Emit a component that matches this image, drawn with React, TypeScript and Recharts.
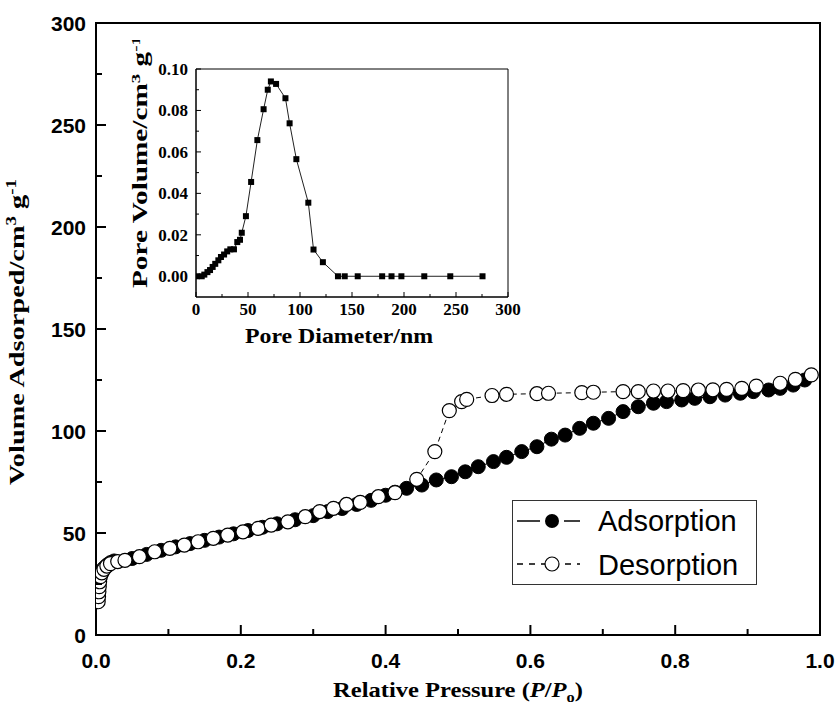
import React from 'react';
import {
  ScatterChart, Scatter, XAxis, YAxis, ReferenceArea, Legend,
} from 'recharts';

const SANS = "'Liberation Sans', Arial, sans-serif";
const SERIF = "'Liberation Serif', 'Times New Roman', serif";

// ---- Main isotherm data (relative pressure P/P0, volume adsorbed cm3/g) ----
const adsorptionP = [0.004, 0.006, 0.008, 0.010, 0.013, 0.016, 0.020, 0.025, 0.05, 0.07, 0.09, 0.11, 0.13, 0.15, 0.17, 0.19, 0.21, 0.23, 0.25, 0.275, 0.30, 0.32, 0.34, 0.36, 0.38, 0.40, 0.413, 0.429, 0.45, 0.47, 0.491, 0.51, 0.528, 0.549, 0.567, 0.588, 0.609, 0.629, 0.648, 0.668, 0.687, 0.708, 0.728, 0.749, 0.770, 0.788, 0.809, 0.827, 0.848, 0.869, 0.890, 0.908, 0.929, 0.945, 0.963, 0.979];
const adsorptionV = [27, 29.5, 31, 32.5, 33.5, 34.5, 35.5, 36.3, 37.5, 39.5, 41.5, 43.2, 44.8, 46.4, 48, 49.6, 51.2, 52.8, 54.5, 56.5, 58.5, 60.5, 62, 64, 66, 68.5, 70, 71.9, 73.5, 76, 77.6, 80, 82.5, 85, 87.1, 89.9, 92.3, 96, 98, 101.3, 103.8, 106.2, 109.5, 111.9, 113.6, 114.4, 115.2, 116, 116.8, 117.6, 118.5, 119.3, 120.1, 120.9, 122.5, 125];

const desorptionP = [0.003, 0.0035, 0.004, 0.0045, 0.005, 0.006, 0.008, 0.011, 0.015, 0.02, 0.03, 0.040, 0.060, 0.081, 0.102, 0.122, 0.141, 0.162, 0.182, 0.203, 0.224, 0.242, 0.265, 0.289, 0.309, 0.328, 0.346, 0.365, 0.390, 0.413, 0.443, 0.468, 0.488, 0.505, 0.512, 0.547, 0.567, 0.609, 0.625, 0.671, 0.687, 0.728, 0.749, 0.770, 0.790, 0.811, 0.832, 0.852, 0.871, 0.892, 0.912, 0.945, 0.966, 0.988];
const desorptionV = [16.3, 18.8, 21.2, 23.7, 26.1, 28.6, 30.5, 32.2, 33.8, 35.0, 36.0, 36.6, 38.4, 40.8, 42.5, 44.1, 45.7, 47.4, 49.0, 50.6, 52.3, 53.9, 55.5, 58.0, 60.5, 62.1, 64.0, 65.0, 67.8, 69.8, 76.3, 89.9, 110.0, 114.4, 115.5, 117.4, 118.0, 118.3, 118.5, 118.8, 119.0, 119.3, 119.3, 119.6, 119.6, 119.8, 120.1, 120.2, 120.4, 120.9, 122.0, 123.4, 125.3, 127.5];

const mainXTicks = [0, 0.1, 0.2, 0.3, 0.4, 0.5, 0.6, 0.7, 0.8, 0.9, 1.0];
const mainYTicks = [0, 25, 50, 75, 100, 125, 150, 175, 200, 225, 250, 275, 300];

// ---- Inset pore size distribution ----
const poreDiameter = [0.7, 5.5, 8, 11, 13.5, 16, 18.5, 21.5, 24, 27, 30, 33, 36.5, 39.7, 42.3, 44, 48, 53, 59, 65, 69, 72, 77, 86, 90, 96.5, 108, 113, 122, 136.5, 143, 155.5, 179, 188, 197.5, 219.5, 244.5, 275.5];
const poreVolume = [0, 0, 0.0008, 0.002, 0.003, 0.0045, 0.006, 0.0077, 0.0093, 0.0105, 0.012, 0.013, 0.013, 0.0165, 0.0176, 0.021, 0.029, 0.0455, 0.0657, 0.0806, 0.090, 0.094, 0.0928, 0.0859, 0.0738, 0.0565, 0.0355, 0.0129, 0.0068, 0, 0, 0, 0, 0, 0, 0, 0, 0];

const insetXTicks = [0, 25, 50, 75, 100, 125, 150, 175, 200, 225, 250, 275, 300];
const insetYTicks = [0, 0.01, 0.02, 0.03, 0.04, 0.05, 0.06, 0.07, 0.08, 0.09, 0.10];

const adsorption = adsorptionP.map((p, i) => ({ p, v: adsorptionV[i] }));
const desorption = desorptionP.map((p, i) => ({ p, v: desorptionV[i] }));
const poreData = poreDiameter.map((d, i) => ({ d, v: poreVolume[i] }));

const MainXTick = (props: any) => {
  const { x, y, payload } = props;
  const v = payload.value as number;
  const major = Math.round(v * 10) % 2 === 0;
  return (
    <g>
      <line x1={x} x2={x} y1={y} y2={y - (major ? 10 : 6)} stroke="#000" strokeWidth={2} />
      {major && (
        <text x={x} y={y + 33} textAnchor="middle" fontFamily={SANS} fontWeight="bold" fontSize={21} fill="#000">
          {v.toFixed(1)}
        </text>
      )}
    </g>
  );
};

const MainYTick = (props: any) => {
  const { x, y, payload } = props;
  const v = payload.value as number;
  const major = v % 50 === 0;
  return (
    <g>
      <line x1={x} x2={x + (major ? 10 : 6)} y1={y} y2={y} stroke="#000" strokeWidth={2} />
      {major && (
        <text x={x - 10} y={y + 7.5} textAnchor="end" fontFamily={SANS} fontWeight="bold" fontSize={21} fill="#000">
          {v}
        </text>
      )}
    </g>
  );
};

const RightYTick = (props: any) => {
  const { x, y, payload } = props;
  const major = (payload.value as number) % 50 === 0;
  return <line x1={x} x2={x - (major ? 10 : 6)} y1={y} y2={y} stroke="#000" strokeWidth={2} />;
};

const InsetXTick = (props: any) => {
  const { x, y, payload } = props;
  const v = payload.value as number;
  const major = v % 50 === 0;
  return (
    <g>
      <line x1={x} x2={x} y1={y} y2={y - (major ? 5 : 3)} stroke="#000" strokeWidth={1} />
      {major && (
        <text x={x} y={y + 18} textAnchor="middle" fontFamily={SERIF} fontWeight="bold" fontSize={17} fill="#000">
          {v}
        </text>
      )}
    </g>
  );
};

const InsetYTick = (props: any) => {
  const { x, y, payload } = props;
  const v = payload.value as number;
  const major = Math.round(v * 100) % 2 === 0;
  return (
    <g>
      <line x1={x} x2={x + (major ? 5 : 3)} y1={y} y2={y} stroke="#000" strokeWidth={1} />
      {major && (
        <text x={x - 8} y={y + 6} textAnchor="end" fontFamily={SERIF} fontWeight="bold" fontSize={17} fill="#000">
          {v.toFixed(2)}
        </text>
      )}
    </g>
  );
};

const FilledDot = (props: any) => <circle cx={props.cx} cy={props.cy} r={7} fill="#000" stroke="#000" strokeWidth={1} />;
const OpenDot = (props: any) => <circle cx={props.cx} cy={props.cy} r={7} fill="#fff" stroke="#000" strokeWidth={1.2} />;
const SquareDot = (props: any) => <rect x={props.cx - 3} y={props.cy - 3} width={6} height={6} fill="#000" />;

const MainXTitle = (props: any) => {
  const vb = props.viewBox;
  return (
    <text x={vb.x + vb.width / 2} y={697} textAnchor="middle" fontFamily={SERIF} fontWeight="bold" fontSize={21} fill="#000" textLength={250} lengthAdjust="spacingAndGlyphs">
      Relative Pressure (<tspan fontStyle="italic">P</tspan>/<tspan fontStyle="italic">P</tspan>
      <tspan fontSize={14} dy={5}>o</tspan>
      <tspan dy={-5}>)</tspan>
    </text>
  );
};

const MainYTitle = (props: any) => {
  const vb = props.viewBox;
  const cy = vb.y + vb.height / 2 + 3;
  const cx = 24;
  return (
    <text x={cx} y={cy} transform={`rotate(-90, ${cx}, ${cy})`} textAnchor="middle" fontFamily={SERIF} fontWeight="bold" fontSize={21} fill="#000" textLength={306} lengthAdjust="spacingAndGlyphs">
      Volume Adsorped/cm<tspan fontSize={14} dy={-8}>3</tspan>
      <tspan dy={8}> g</tspan>
      <tspan fontSize={14} dy={-8}>-1</tspan>
    </text>
  );
};

const InsetXTitle = () => (
  <text x={239} y={303} textAnchor="middle" fontFamily={SERIF} fontWeight="bold" fontSize={20} fill="#000" textLength={188} lengthAdjust="spacingAndGlyphs">
    Pore Diameter/nm
  </text>
);

const InsetYTitle = () => {
  const cx = 47;
  const cy = 122;
  return (
    <text x={cx} y={cy} transform={`rotate(-90, ${cx}, ${cy})`} textAnchor="middle" fontFamily={SERIF} fontWeight="bold" fontSize={20} fill="#000" textLength={252} lengthAdjust="spacingAndGlyphs">
      Pore Volume/cm<tspan fontSize={13} dy={-7}>3</tspan>
      <tspan dy={7}> g</tspan>
      <tspan fontSize={13} dy={-7}>-1</tspan>
    </text>
  );
};

const LegendBox = () => (
  <div style={{ width: 245, height: 85, border: '1px solid #333', boxSizing: 'border-box', background: '#fff' }}>
    <svg width={243} height={83}>
      <line x1={4} x2={27} y1={20} y2={20} stroke="#000" strokeWidth={1.5} />
      <circle cx={39} cy={20} r={7} fill="#000" />
      <line x1={51} x2={67} y1={20} y2={20} stroke="#000" strokeWidth={1.5} />
      <text x={85} y={30} fontFamily={SANS} fontSize={29} fill="#000">Adsorption</text>
      <line x1={4} x2={67} y1={63} y2={63} stroke="#000" strokeWidth={1.5} strokeDasharray="6 6" />
      <circle cx={39} cy={63} r={7} fill="#fff" stroke="#000" strokeWidth={1.2} />
      <text x={85} y={74} fontFamily={SANS} fontSize={29} fill="#000">Desorption</text>
    </svg>
  </div>
);

export default function App() {
  return (
    <div style={{ position: 'absolute', left: 0, top: 0, width: 838, height: 706, background: '#fff' }}>
      <ScatterChart width={838} height={706} margin={{ top: 23, right: 18, bottom: 31, left: 36 }}>
        <XAxis
          type="number" dataKey="p" domain={[0, 1]} ticks={mainXTicks} interval={0}
          height={40} tickSize={0} tickMargin={0} tickLine={false}
          axisLine={{ stroke: '#000', strokeWidth: 2 }} tick={<MainXTick />}
          label={{ content: <MainXTitle /> }} allowDataOverflow
        />
        <YAxis
          type="number" dataKey="v" domain={[0, 300]} ticks={mainYTicks} interval={0}
          width={60} tickSize={0} tickMargin={0} tickLine={false}
          axisLine={{ stroke: '#000', strokeWidth: 2 }} tick={<MainYTick />}
          label={{ content: <MainYTitle /> }} allowDataOverflow
        />
        <YAxis
          yAxisId="right" orientation="right" type="number" domain={[0, 300]} ticks={mainYTicks} interval={0}
          width={0} tickSize={0} tickMargin={0} tickLine={false}
          axisLine={{ stroke: '#000', strokeWidth: 2 }} tick={<RightYTick />}
        />
        <ReferenceArea x1={0} x2={1} y1={0} y2={300} fill="none" stroke="#000" strokeWidth={2} fillOpacity={0} />
        <Scatter
          name="Adsorption" data={adsorption} isAnimationActive={false}
          line={{ stroke: '#000', strokeWidth: 1 }} lineType="joint" shape={<FilledDot />}
        />
        <Scatter
          name="Desorption" data={desorption} isAnimationActive={false}
          line={{ stroke: '#000', strokeWidth: 1, strokeDasharray: '5 4' }} lineType="joint" shape={<OpenDot />}
        />
        <Legend
          layout="vertical" align="center" verticalAlign="middle"
          content={<LegendBox />}
          wrapperStyle={{ position: 'absolute', left: 512, top: 500, width: 245, height: 85 }}
        />
      </ScatterChart>

      <div style={{ position: 'absolute', left: 100, top: 40 }}>
        <ScatterChart width={430} height={320} margin={{ top: 29, right: 22, bottom: 33, left: 46 }}>
          <XAxis
            type="number" dataKey="d" domain={[0, 300]} ticks={insetXTicks} interval={0}
            height={30} tickSize={0} tickMargin={0} tickLine={false}
            axisLine={{ stroke: '#000', strokeWidth: 1 }} tick={<InsetXTick />}
            label={{ content: <InsetXTitle /> }} allowDataOverflow
          />
          <YAxis
            type="number" dataKey="v" domain={[-0.01, 0.1]} ticks={insetYTicks} interval={0}
            width={50} tickSize={0} tickMargin={0} tickLine={false}
            axisLine={{ stroke: '#000', strokeWidth: 1 }} tick={<InsetYTick />}
            label={{ content: <InsetYTitle /> }} allowDataOverflow
          />
          <ReferenceArea x1={0} x2={300} y1={-0.01} y2={0.1} fill="none" stroke="#000" strokeWidth={1} fillOpacity={0} />
          <Scatter
            data={poreData} isAnimationActive={false}
            line={{ stroke: '#222', strokeWidth: 1 }} lineType="joint" shape={<SquareDot />}
          />
        </ScatterChart>
      </div>
    </div>
  );
}
